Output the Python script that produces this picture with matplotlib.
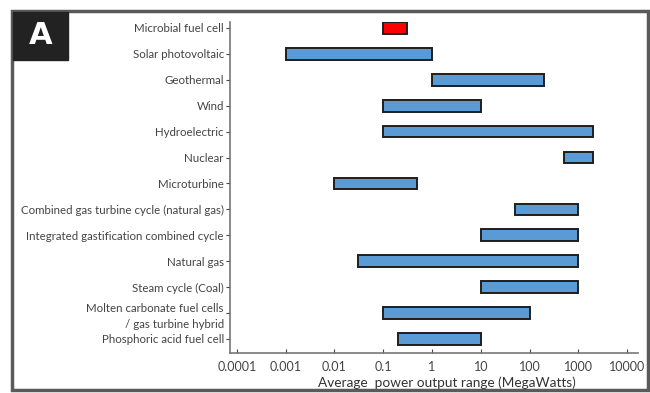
import numpy as np
import matplotlib.pyplot as plt
from matplotlib.patches import Rectangle

plt.rcParams['font.family'] = ['Lato', 'DejaVu Sans']

sources = ['Microbial fuel cell', 'Solar photovoltaic', 'Geothermal', 'Wind',
           'Hydroelectric', 'Nuclear', 'Microturbine',
           'Combined gas turbine cycle (natural gas)',
           'Integrated gastification combined cycle', 'Natural gas',
           'Steam cycle (Coal)', 'Molten carbonate fuel cells\n/ gas turbine hybrid',
           'Phosphoric acid fuel cell']
low_mw = [0.1, 0.001, 1, 0.1, 0.1, 500, 0.01, 50, 10, 0.03, 10, 0.1, 0.2]
high_mw = [0.3, 1, 200, 10, 2000, 2000, 0.5, 1000, 1000, 1000, 1000, 100, 10]
x_ticks = [0.0001, 0.001, 0.01, 0.1, 1, 10, 100, 1000, 10000]
x_tick_labels = ['0.0001', '0.001', '0.01', '0.1', '1', '10', '100', '1000', '10000']

fig = plt.figure(figsize=(6.5, 3.93), dpi=100)
ax = fig.add_axes([0.354, 0.102, 0.628, 0.842])

y = np.arange(len(sources))
colors = ['#ff0000'] + ['#5b9bd5'] * (len(sources) - 1)
widths = np.array(high_mw) - np.array(low_mw)
ax.barh(y, widths, left=low_mw, height=0.45, color=colors,
        edgecolor='#1e1e1e', linewidth=1.4)

ax.set_xscale('log')
ax.set_xlim(10**-4.14, 10**4.23)
ax.set_ylim(12.54, -0.23)
ax.set_xticks(x_ticks)
ax.set_xticklabels(x_tick_labels)
ax.xaxis.set_minor_locator(plt.NullLocator())
ax.set_yticks(y)
ax.set_yticklabels(sources, fontsize=8.3, color='#2a2a2a', linespacing=1.6)
ax.tick_params(axis='x', direction='in', length=3, labelsize=9, colors='#444444', pad=6)
ax.tick_params(axis='y', direction='out', length=3, colors='#444444', pad=1.5)
for s in ['top', 'right']:
    ax.spines[s].set_visible(False)
for s in ['left', 'bottom']:
    ax.spines[s].set_color('#777777')
    ax.spines[s].set_linewidth(1.2)
ax.set_xlabel('Average  power output range (MegaWatts)', fontsize=9.8,
              color='#333333', labelpad=0)
ax.xaxis.set_label_coords(0.532, -0.07)

# grey frame around the panel and the black "A" tag
fig.patches.append(Rectangle((12 / 650, 3 / 393), 636 / 650, 379 / 393,
                             transform=fig.transFigure, fill=False,
                             edgecolor='#5a5a5a', linewidth=2.5))
fig.patches.append(Rectangle((13 / 650, 333 / 393), 55 / 650, 48 / 393,
                             transform=fig.transFigure, color='#222222'))
fig.text(40.5 / 650, 357 / 393, 'A', color='white', fontsize=22,
         fontweight='bold', ha='center', va='center', family='DejaVu Sans')

fig.savefig('out.png', dpi=100)
